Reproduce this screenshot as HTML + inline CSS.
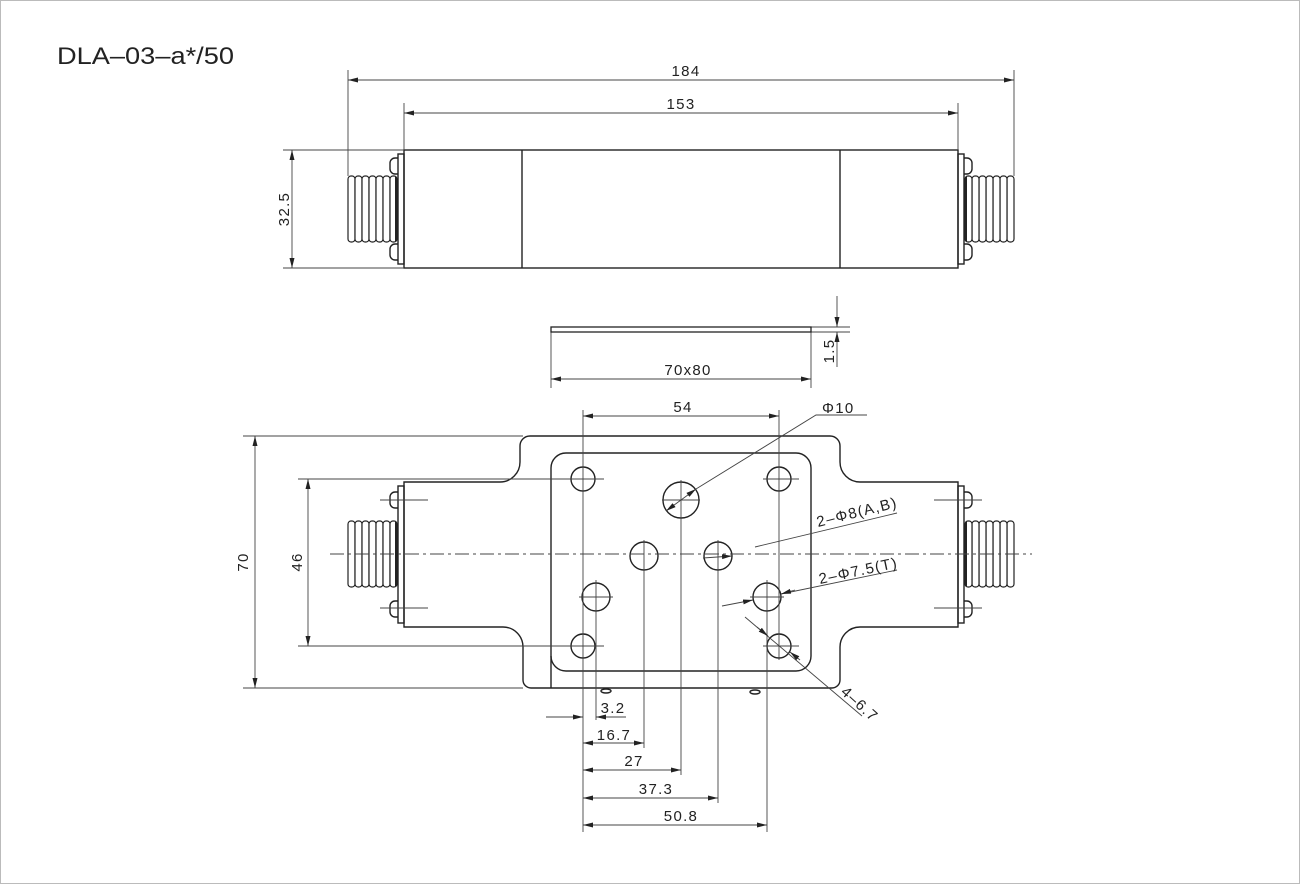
<!DOCTYPE html>
<html><head><meta charset="utf-8"><style>
html,body{margin:0;padding:0;background:#fff}
svg{display:block}
text{font-family:"Liberation Sans",Arial,sans-serif;fill:#222}
.d{font-size:15px;letter-spacing:1.3px}
</style></head><body>
<svg width="1300" height="884" viewBox="0 0 1300 884" xmlns="http://www.w3.org/2000/svg">
<defs>
<marker id="a" viewBox="0 0 10 6" refX="10" refY="3" markerWidth="10" markerHeight="6" orient="auto-start-reverse" markerUnits="userSpaceOnUse"><path d="M0,0.5 L10,3 L0,5.5 Z" fill="#222"/></marker>
<g id="thr">
<rect x="0" y="0" width="7" height="66" rx="3" fill="#fff" stroke="#222" stroke-width="1.2"/>
<rect x="7" y="0" width="7" height="66" rx="3" fill="#fff" stroke="#222" stroke-width="1.2"/>
<rect x="14" y="0" width="7" height="66" rx="3" fill="#fff" stroke="#222" stroke-width="1.2"/>
<rect x="21" y="0" width="7" height="66" rx="3" fill="#fff" stroke="#222" stroke-width="1.2"/>
<rect x="28" y="0" width="7" height="66" rx="3" fill="#fff" stroke="#222" stroke-width="1.2"/>
<rect x="35" y="0" width="7" height="66" rx="3" fill="#fff" stroke="#222" stroke-width="1.2"/>
<rect x="42" y="0" width="7" height="66" rx="3" fill="#fff" stroke="#222" stroke-width="1.2"/>
<line x1="48" y1="1" x2="48" y2="65" stroke="#222" stroke-width="2"/>
</g>
</defs>
<rect x="0.5" y="0.5" width="1299" height="883" fill="#fff" stroke="#bbb" stroke-width="1"/>
<text x="57" y="64" font-size="24" textLength="177" lengthAdjust="spacingAndGlyphs">DLA–03–a*/50</text>

<g stroke="#222" fill="none" stroke-width="1.4">
<rect x="404" y="150" width="554" height="118"/>
<line x1="522" y1="150" x2="522" y2="268"/>
<line x1="840" y1="150" x2="840" y2="268"/>
<rect x="398" y="154" width="6" height="110"/>
<rect x="958" y="154" width="6" height="110"/>
<path d="M398,158 h-3 a5,5 0 0 0 -5,5 v6 a5,5 0 0 0 5,5 h3"/>
<path d="M398,244 h-3 a5,5 0 0 0 -5,5 v6 a5,5 0 0 0 5,5 h3"/>
<path d="M964,158 h3 a5,5 0 0 1 5,5 v6 a5,5 0 0 1 -5,5 h-3"/>
<path d="M964,244 h3 a5,5 0 0 1 5,5 v6 a5,5 0 0 1 -5,5 h-3"/>
</g>
<use href="#thr" x="348" y="176"/>
<use href="#thr" transform="translate(1014,176) scale(-1,1)"/>

<g stroke="#444" stroke-width="0.9" fill="none">
<line x1="348" y1="70" x2="348" y2="176"/><line x1="1014" y1="70" x2="1014" y2="176"/>
<line x1="348" y1="80" x2="1014" y2="80" marker-start="url(#a)" marker-end="url(#a)"/>
<line x1="404" y1="103" x2="404" y2="150"/><line x1="958" y1="103" x2="958" y2="150"/>
<line x1="404" y1="113" x2="958" y2="113" marker-start="url(#a)" marker-end="url(#a)"/>
<line x1="283" y1="150" x2="404" y2="150"/><line x1="283" y1="268" x2="404" y2="268"/>
<line x1="292" y1="150" x2="292" y2="268" marker-start="url(#a)" marker-end="url(#a)"/>
<line x1="551" y1="332" x2="551" y2="388"/><line x1="811" y1="332" x2="811" y2="388"/>
<line x1="551" y1="379" x2="811" y2="379" marker-start="url(#a)" marker-end="url(#a)"/>
<line x1="811" y1="327" x2="850" y2="327"/><line x1="811" y1="332" x2="850" y2="332"/>
<line x1="837" y1="296" x2="837" y2="327" marker-end="url(#a)"/>
<line x1="837" y1="367" x2="837" y2="332" marker-end="url(#a)"/>
</g>
<rect x="551" y="327" width="260" height="5" fill="#fff" stroke="#222" stroke-width="1.3"/>
<g class="d">
<text x="686" y="76" text-anchor="middle">184</text>
<text x="681" y="109" text-anchor="middle">153</text>
<text transform="translate(289,209) rotate(-90)" text-anchor="middle">32.5</text>
<text x="688" y="375" text-anchor="middle">70x80</text>
<text transform="translate(834,351) rotate(-90)" text-anchor="middle">1.5</text>
</g>

<g stroke="#222" fill="none" stroke-width="1.4">
<path d="M404,482 H500 A20,20 0 0 0 520,462 V446 A10,10 0 0 1 530,436 H830 A10,10 0 0 1 840,446 V462 A20,20 0 0 0 860,482 H958 V627 H860 A20,20 0 0 0 840,647 V680 A8,8 0 0 1 832,688 H531 A8,8 0 0 1 523,680 V647 A20,20 0 0 0 503,627 H404 Z"/>
<path d="M566,453 H796 A15,15 0 0 1 811,468 V656 A15,15 0 0 1 796,671 H566 A15,15 0 0 1 551,656 V468 A15,15 0 0 1 566,453 Z"/>
<line x1="551" y1="656" x2="551" y2="688"/>
<rect x="398" y="486" width="6" height="137"/>
<rect x="958" y="486" width="6" height="137"/>
<path d="M398,492 h-3 a5,5 0 0 0 -5,5 v6 a5,5 0 0 0 5,5 h3"/>
<path d="M398,601 h-3 a5,5 0 0 0 -5,5 v6 a5,5 0 0 0 5,5 h3"/>
<path d="M964,492 h3 a5,5 0 0 1 5,5 v6 a5,5 0 0 1 -5,5 h-3"/>
<path d="M964,601 h3 a5,5 0 0 1 5,5 v6 a5,5 0 0 1 -5,5 h-3"/>
<circle cx="583" cy="479" r="12"/><circle cx="779" cy="479" r="12"/>
<circle cx="583" cy="646" r="12"/><circle cx="779" cy="646" r="12"/>
<circle cx="681" cy="500" r="18"/>
<circle cx="644" cy="556" r="14"/><circle cx="718" cy="556" r="14"/>
<circle cx="596" cy="597" r="14"/><circle cx="767" cy="597" r="14"/>
<ellipse cx="606" cy="691" rx="5" ry="2"/><ellipse cx="755" cy="692" rx="5" ry="2"/>
</g>
<use href="#thr" x="348" y="521"/>
<use href="#thr" transform="translate(1014,521) scale(-1,1)"/>

<g stroke="#444" stroke-width="0.9" fill="none">
<line x1="330" y1="554" x2="1032" y2="554" stroke-dasharray="14,4,3,4"/>
<line x1="380" y1="500" x2="428" y2="500"/><line x1="380" y1="608" x2="428" y2="608"/>
<line x1="934" y1="500" x2="982" y2="500"/><line x1="934" y1="608" x2="982" y2="608"/>
<line x1="583" y1="410" x2="583" y2="832"/>
<line x1="779" y1="410" x2="779" y2="660"/>
<line x1="567" y1="479" x2="603" y2="479"/><line x1="763" y1="479" x2="799" y2="479"/>
<line x1="567" y1="646" x2="603" y2="646"/><line x1="763" y1="646" x2="799" y2="646"/>
<line x1="596" y1="580" x2="596" y2="720"/><line x1="579" y1="597" x2="613" y2="597"/>
<line x1="767" y1="580" x2="767" y2="832"/><line x1="750" y1="597" x2="784" y2="597"/>
<line x1="644" y1="540" x2="644" y2="748"/><line x1="718" y1="540" x2="718" y2="803"/>
<line x1="681" y1="480" x2="681" y2="775"/><line x1="662" y1="500" x2="700" y2="500"/>
<line x1="583" y1="416" x2="779" y2="416" marker-start="url(#a)" marker-end="url(#a)"/>
<line x1="243" y1="436" x2="523" y2="436"/><line x1="243" y1="688" x2="523" y2="688"/>
<line x1="255" y1="436" x2="255" y2="688" marker-start="url(#a)" marker-end="url(#a)"/>
<line x1="298" y1="479" x2="604" y2="479"/><line x1="298" y1="646" x2="604" y2="646"/>
<line x1="308" y1="479" x2="308" y2="646" marker-start="url(#a)" marker-end="url(#a)"/>
<line x1="546" y1="717" x2="583" y2="717" marker-end="url(#a)"/>
<line x1="626" y1="717" x2="596" y2="717" marker-end="url(#a)"/>
<line x1="583" y1="743" x2="644" y2="743" marker-start="url(#a)" marker-end="url(#a)"/>
<line x1="583" y1="770" x2="681" y2="770" marker-start="url(#a)" marker-end="url(#a)"/>
<line x1="583" y1="798" x2="718" y2="798" marker-start="url(#a)" marker-end="url(#a)"/>
<line x1="583" y1="825" x2="767" y2="825" marker-start="url(#a)" marker-end="url(#a)"/>
<line x1="666" y1="511" x2="696" y2="489" marker-start="url(#a)" marker-end="url(#a)"/>
<polyline points="696,489 816,415 867,415"/>
<line x1="755" y1="547" x2="897" y2="513"/>
<line x1="703" y1="558" x2="732" y2="556" marker-end="url(#a)"/>
<line x1="722" y1="606" x2="753" y2="600" marker-end="url(#a)"/>
<line x1="781" y1="594" x2="897" y2="570"/>
<line x1="795" y1="590" x2="781" y2="594" marker-end="url(#a)"/>
<line x1="745" y1="617" x2="862" y2="716"/>
<line x1="757" y1="627" x2="768" y2="636" marker-end="url(#a)"/>
<line x1="800" y1="660" x2="790" y2="652" marker-end="url(#a)"/>
</g>
<g class="d">
<text x="683" y="412" text-anchor="middle">54</text>
<text x="822" y="413">Φ10</text>
<text transform="translate(248,562) rotate(-90)" text-anchor="middle">70</text>
<text transform="translate(302,562) rotate(-90)" text-anchor="middle">46</text>
<text x="613" y="713" text-anchor="middle">3.2</text>
<text x="614" y="740" text-anchor="middle">16.7</text>
<text x="634" y="766" text-anchor="middle">27</text>
<text x="656" y="794" text-anchor="middle">37.3</text>
<text x="681" y="821" text-anchor="middle">50.8</text>
<text transform="translate(818,527) rotate(-14)">2–Φ8(A,B)</text>
<text transform="translate(820,584) rotate(-12)">2–Φ7.5(T)</text>
<text transform="translate(840,693) rotate(42)">4–6.7</text>
</g>
</svg>
</body></html>
